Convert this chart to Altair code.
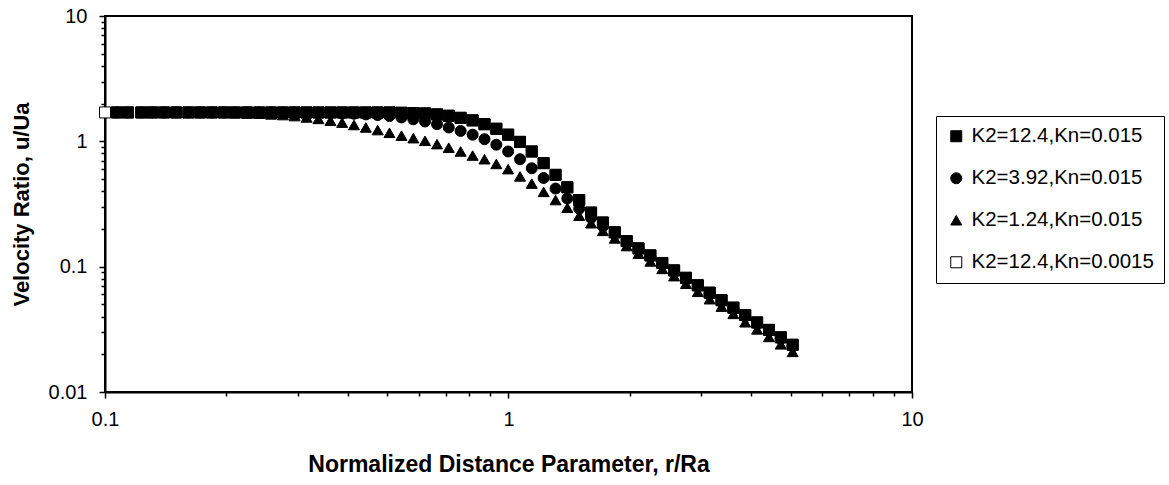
import altair as alt
import pandas as pd

FONT = "Liberation Sans"

# Normalized distance r/Ra (shared x positions)
R = [0.100, 0.107, 0.114, 0.123, 0.131, 0.140, 0.150, 0.161, 0.172, 0.184,
     0.197, 0.210, 0.225, 0.241, 0.258, 0.276, 0.295, 0.316, 0.338, 0.362,
     0.387, 0.414, 0.443, 0.474, 0.507, 0.543, 0.581, 0.621, 0.665, 0.711,
     0.761, 0.815, 0.872, 0.933, 0.998, 1.068, 1.142, 1.222, 1.308, 1.399,
     1.497, 1.602, 1.714, 1.834, 1.963, 2.100, 2.247, 2.405, 2.573, 2.753,
     2.946, 3.152, 3.373, 3.609, 3.861, 4.132, 4.421, 4.730, 5.061]

# K2=12.4, Kn=0.015 (filled squares), x = R[1:]
SQ_FILLED = [1.70, 1.70, 1.70, 1.70, 1.70, 1.70, 1.70, 1.70, 1.70, 1.70,
             1.70, 1.70, 1.70, 1.70, 1.70, 1.70, 1.70, 1.70, 1.70, 1.70,
             1.70, 1.70, 1.70, 1.70, 1.69, 1.68, 1.67, 1.64, 1.60, 1.54,
             1.47, 1.37, 1.26, 1.13, 0.99, 0.83, 0.67, 0.54, 0.43, 0.34,
             0.27, 0.225, 0.188, 0.160, 0.140, 0.123, 0.107, 0.0934, 0.0815, 0.0710,
             0.0620, 0.0540, 0.0471, 0.0411, 0.0359, 0.0313, 0.0273, 0.0238]

# K2=3.92, Kn=0.015 (circles), x = R[1:]
CIRCLES = [1.70, 1.70, 1.70, 1.70, 1.70, 1.70, 1.70, 1.70, 1.70, 1.70,
           1.70, 1.70, 1.70, 1.70, 1.70, 1.70, 1.69, 1.69, 1.68, 1.67,
           1.66, 1.64, 1.62, 1.59, 1.55, 1.50, 1.44, 1.37, 1.29, 1.21,
           1.13, 1.04, 0.94, 0.83, 0.72, 0.61, 0.51, 0.42, 0.35, 0.29,
           0.245, 0.21, 0.182, 0.157, 0.137, 0.120, 0.1045, 0.091, 0.0795, 0.0693,
           0.0605, 0.0527, 0.046, 0.0401, 0.035, 0.0305, 0.0266, 0.0232]

# K2=1.24, Kn=0.015 (triangles), x = R[1:]
TRIANGLES = [1.70, 1.70, 1.70, 1.70, 1.70, 1.70, 1.70, 1.69, 1.69, 1.69,
             1.68, 1.67, 1.66, 1.64, 1.62, 1.59, 1.55, 1.51, 1.46, 1.41,
             1.35, 1.29, 1.23, 1.17, 1.11, 1.06, 1.01, 0.95, 0.89, 0.83,
             0.77, 0.72, 0.66, 0.60, 0.525, 0.46, 0.395, 0.34, 0.295, 0.255,
             0.222, 0.193, 0.168, 0.146, 0.127, 0.110, 0.096, 0.084, 0.073, 0.063,
             0.055, 0.048, 0.042, 0.036, 0.0316, 0.0275, 0.024, 0.0209]

# K2=12.4, Kn=0.0015 (open squares), x = R
SQ_OPEN = [1.70, 1.70, 1.70, 1.70, 1.70, 1.70, 1.70, 1.70, 1.70, 1.70,
           1.70, 1.70, 1.70, 1.70, 1.70, 1.70, 1.70, 1.70, 1.70, 1.70,
           1.70, 1.70, 1.70, 1.70, 1.70, 1.69, 1.68, 1.67, 1.64, 1.60,
           1.54, 1.47, 1.37, 1.26, 1.13, 0.99, 0.83, 0.67, 0.54, 0.43,
           0.34, 0.27, 0.225, 0.188, 0.160, 0.140, 0.123, 0.107, 0.0934, 0.0815,
           0.0710, 0.0620, 0.0540, 0.0471, 0.0411, 0.0359, 0.0313, 0.0273, 0.0238]

LABELS = ["K2=12.4,Kn=0.015", "K2=3.92,Kn=0.015", "K2=1.24,Kn=0.015", "K2=12.4,Kn=0.0015"]
SHAPES = ["square", "circle", "triangle-up", "square"]
FILLS = ["black", "black", "black", "white"]
STROKES = ["black", "black", "black", "black"]

X_TICKS = [0.1, 0.2, 0.3, 0.4, 0.5, 0.6, 0.7, 0.8, 0.9,
           1, 2, 3, 4, 5, 6, 7, 8, 9, 10]
Y_TICKS = [0.01, 0.02, 0.03, 0.04, 0.05, 0.06, 0.07, 0.08, 0.09,
           0.1, 0.2, 0.3, 0.4, 0.5, 0.6, 0.7, 0.8, 0.9,
           1, 2, 3, 4, 5, 6, 7, 8, 9, 10]

rows = []
for x, y in zip(R, SQ_OPEN):
    rows.append({"r": x, "u": y, "series": LABELS[3]})
for x, y in zip(R[1:], SQ_FILLED):
    rows.append({"r": x, "u": y, "series": LABELS[0]})
for x, y in zip(R[1:], CIRCLES):
    rows.append({"r": x, "u": y, "series": LABELS[1]})
for x, y in zip(R[1:], TRIANGLES):
    rows.append({"r": x, "u": y, "series": LABELS[2]})
df = pd.DataFrame(rows)

x_major = "datum.value == 0.1 || datum.value == 1 || datum.value == 10"
y_major = "datum.value == 0.01 || datum.value == 0.1 || datum.value == 1 || datum.value == 10"

legend = alt.Legend(
    title=None, orient="none", legendX=831, legendY=100, padding=10,
    rowPadding=21, strokeColor="black", fillColor="white",
    labelFont=FONT, labelFontSize=20.5, labelColor="black", labelOffset=5,
    labelLimit=0, symbolSize=121, symbolStrokeWidth=1,
)

chart = alt.Chart(df).mark_point(
    filled=True, size=121, strokeWidth=1, opacity=1
).encode(
    x=alt.X("r:Q",
            scale=alt.Scale(type="log", domain=[0.1, 10], nice=False),
            axis=alt.Axis(
                values=X_TICKS,
                labelExpr="datum.value == 0.1 ? '0.1' : datum.value == 1 ? '1' : datum.value == 10 ? '10' : ''",
                tickSize={"condition": {"test": x_major, "value": 6}, "value": 4},
                title="Normalized Distance Parameter, r/Ra",
                titleY=79, titleBaseline="alphabetic", titleFontSize=23,
                labelPadding=11, labelFlush=False, labelOverlap=False,
                grid=False)),
    y=alt.Y("u:Q",
            scale=alt.Scale(type="log", domain=[0.01, 10], nice=False),
            axis=alt.Axis(
                values=Y_TICKS,
                labelExpr="datum.value == 0.01 ? '0.01' : datum.value == 0.1 ? '0.1' : datum.value == 1 ? '1' : datum.value == 10 ? '10' : ''",
                tickSize={"condition": {"test": y_major, "value": 6}, "value": 4},
                title="Velocity Ratio, u/Ua",
                titleX=-77, titleBaseline="alphabetic",
                labelPadding=12, labelFlush=False, labelOverlap=False,
                grid=False)),
    shape=alt.Shape("series:N", scale=alt.Scale(domain=LABELS, range=SHAPES), legend=legend),
    fill=alt.Fill("series:N", scale=alt.Scale(domain=LABELS, range=FILLS), legend=legend),
    stroke=alt.Stroke("series:N", scale=alt.Scale(domain=LABELS, range=STROKES), legend=legend),
).properties(
    width=807, height=376,
    padding={"left": 105, "top": 16, "right": 257, "bottom": 93},
    autosize=alt.AutoSizeParams(type="none"),
    background="white",
).configure_view(
    stroke="black", strokeWidth=2
).configure_axis(
    labelFont=FONT, labelFontSize=20, labelColor="black",
    titleFont=FONT, titleFontSize=22, titleFontWeight="bold", titleColor="black",
    domainColor="black", domainWidth=2, tickColor="black", tickWidth=1.5,
).configure_legend(
    strokeWidth=1
)

chart.save("out.html", embed_options={"renderer": "svg", "actions": False})
